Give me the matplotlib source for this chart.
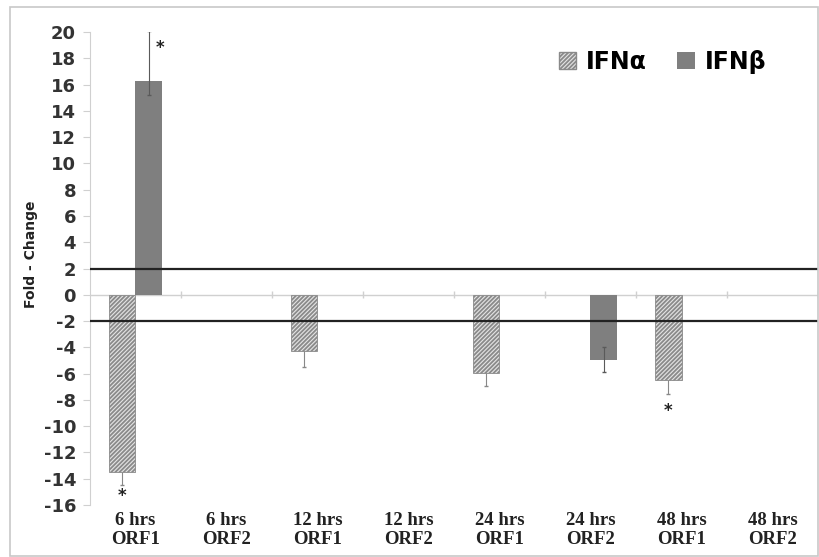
import matplotlib
matplotlib.use("Agg")
import matplotlib.pyplot as plt
import numpy as np
from matplotlib.patches import Patch, Rectangle

# ---------- data ----------
categories = ["6 hrs\nORF1", "6 hrs\nORF2", "12 hrs\nORF1", "12 hrs\nORF2",
              "24 hrs\nORF1", "24 hrs\nORF2", "48 hrs\nORF1", "48 hrs\nORF2"]
ifn_alpha = [-13.5, 0, -4.3, 0, -5.95, 0, -6.5, 0]
ifn_beta = [16.3, 0, 0, 0, 0, -4.95, 0, 0]
alpha_err_lo = [1.0, 0, 1.2, 0, 1.0, 0, 1.05, 0]
alpha_err_hi = [1.0, 0, 1.2, 0, 1.0, 0, 1.05, 0]
beta_err_lo = [1.1, 0, 0, 0, 0, 0.95, 0, 0]
beta_err_hi = [3.8, 0, 0, 0, 0, 0.95, 0, 0]
threshold = 2
# significance stars: (category index, series, y)
stars = [(0, "alpha", -15.3), (0, "beta", 18.8), (6, "alpha", -8.85)]

BETA_C = "#7f7f7f"
plt.rcParams["hatch.linewidth"] = 1.3
plt.rcParams["hatch.color"] = "#4a4a4a"

fig = plt.figure(figsize=(8.2, 5.57), dpi=100)
fig.patches.append(Rectangle((10 / 820, 1 / 557), 808 / 820, 549 / 557,
                             transform=fig.transFigure, fill=False,
                             edgecolor="#c8c8c8", lw=1.2))
ax = fig.add_axes([90 / 820, 52 / 557, 728 / 820, 473 / 557])

x = np.arange(len(categories))
w = 0.295
a = np.array(ifn_alpha)
b = np.array(ifn_beta)
ma_bar = a != 0
mb_bar = b != 0

ax.bar((x - w / 2)[ma_bar], a[ma_bar], w, facecolor="#e4e4e4",
       edgecolor="#8a8a8a", hatch="////////", lw=0.6, zorder=2)
ax.bar((x + w / 2)[mb_bar], b[mb_bar], w, color=BETA_C, zorder=2)

ma = (np.array(alpha_err_lo) + np.array(alpha_err_hi)) > 0
mb = (np.array(beta_err_lo) + np.array(beta_err_hi)) > 0
ax.errorbar((x - w / 2)[ma], a[ma],
            yerr=[np.array(alpha_err_lo)[ma], np.array(alpha_err_hi)[ma]],
            fmt="none", ecolor="#888888", elinewidth=0.8, capsize=1.5, zorder=1.5)
ax.errorbar((x + w / 2)[mb], b[mb],
            yerr=[np.array(beta_err_lo)[mb], np.array(beta_err_hi)[mb]],
            fmt="none", ecolor="#5a5a5a", elinewidth=0.8, capsize=1.5, zorder=3)

for i, series, yv in stars:
    xs = x[i] - w / 2 if series == "alpha" else x[i] + w / 2 + 0.12
    ax.text(xs, yv, "*", ha="center", va="center", fontsize=12,
            fontweight="bold", color="#222222")

ax.axhline(threshold, color="#222222", lw=1.6, zorder=4)
ax.axhline(-threshold, color="#222222", lw=1.6, zorder=4)
ax.axhline(0, color="#d0d0d0", lw=1.0, zorder=1)
bounds = np.arange(len(categories) + 1) - 0.5
ax.vlines(bounds[1:], -0.25, 0.25, color="#d0d0d0", lw=1.0, zorder=1)

ax.set_xlim(-0.5, len(categories) - 0.5)
ax.set_ylim(-16, 20)
ax.set_yticks(np.arange(-16, 21, 2))
ax.set_yticklabels([str(v) for v in range(-16, 21, 2)],
                   fontsize=13, fontweight="bold", color="#333333",
                   family="DejaVu Sans")
ax.tick_params(axis="y", length=5, color="#d0d0d0", pad=5)

ax.set_xticks(x)
ax.set_xticklabels(categories, fontsize=13.5, fontweight="bold",
                   family="Liberation Serif", color="#222222", linespacing=1.15)
ax.tick_params(axis="x", length=0, pad=5)

for s in ["top", "right", "bottom"]:
    ax.spines[s].set_visible(False)
ax.spines["left"].set_color("#d0d0d0")

ax.set_ylabel("Fold - Change", fontsize=10, fontweight="bold",
              family="DejaVu Sans", color="#222222", labelpad=2)
ax.yaxis.set_label_coords(-0.072, 0.53)

handles = [Patch(facecolor="#e4e4e4", edgecolor="#8a8a8a", hatch="////////"),
           Patch(facecolor=BETA_C)]
ax.legend(handles, ["IFNα", "IFNβ"], loc="center right",
          bbox_to_anchor=(0.945, 0.937), ncol=2, frameon=False,
          prop={"family": "DejaVu Sans", "weight": "bold", "size": 17},
          handlelength=0.75, handleheight=0.75, columnspacing=1.3,
          handletextpad=0.4, borderpad=0)

fig.savefig("out.png", dpi=100)
